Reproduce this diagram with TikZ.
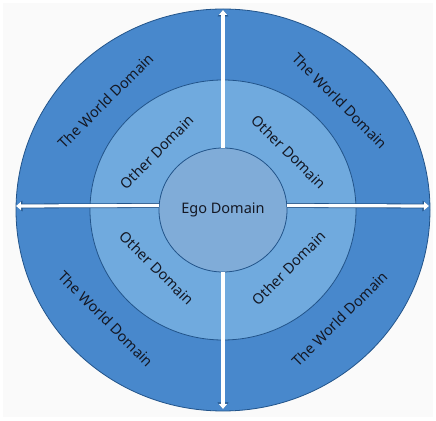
\documentclass[tikz,border=0pt]{standalone}
\usepackage{fontspec}
\setmainfont{Noto Sans}
\usetikzlibrary{positioning}
\usetikzlibrary{shapes.geometric}
\usetikzlibrary{arrows.meta}

\definecolor{outerblue}{RGB}{72,136,204}
\definecolor{midblue}{RGB}{112,170,222}
\definecolor{egoblue}{RGB}{128,172,216}
\definecolor{rim}{RGB}{34,84,138}
\definecolor{ink}{RGB}{20,24,36}

\begin{document}
\begin{tikzpicture}[
x=1pt, y=1pt,
font=\fontsize{14.5}{16}\selectfont,
every node/.style={text=ink}
]

\tikzstyle{ring} = [draw=rim, line width=0.8pt]
\tikzstyle{ego} = [draw=rim, line width=0.8pt, fill=egoblue, shape=ellipse,
    minimum width=128pt, minimum height=124pt, inner sep=0pt]
\tikzstyle{axis} = [white, line width=3.2pt, -{Triangle[length=5pt,width=8pt]},
    preaction={draw=rim, line width=4.8pt, -{Triangle[length=6.5pt,width=10.5pt]}}]
\tikzstyle{lbl} = [inner sep=0pt]

\useasboundingbox (0,0) rectangle (436,420);
\fill[gray!4] (3,3) rectangle (433,417);

% rings
\coordinate (c) at (223,210);
\fill[outerblue] (c) ellipse [x radius=207, y radius=201];
\draw[ring] (c) ellipse [x radius=207, y radius=201];
\fill[midblue] (c) ellipse [x radius=133, y radius=130];
\draw[ring] (c) ellipse [x radius=133, y radius=130];
\node[ego] (ego) at (c) {Ego Domain};

% axis ends
\coordinate (top) at (223,410);
\coordinate (bot) at (223,11);
\coordinate (lft) at (16,214);
\coordinate (rgt) at (429,214);
\draw[axis] (ego.north) -- (top);
\draw[axis] (ego.south) -- (bot);
\draw[axis] (ego.176) -- (lft);
\draw[axis] (ego.4) -- (rgt);

% domain labels
\node[lbl, rotate=45]  (wtl) at (106,319) {The World Domain};
\node[lbl, rotate=-45] (wtr) at (340,319) {The World Domain};
\node[lbl, rotate=-45] (wbl) at (106,101) {The World Domain};
\node[lbl, rotate=45]  (wbr) at (340,101) {The World Domain};
\node[lbl, rotate=45]  (otl) at (157,268) {Other Domain};
\node[lbl, rotate=-45] (otr) at (289,268) {Other Domain};
\node[lbl, rotate=-45] (obl) at (157,152) {Other Domain};
\node[lbl, rotate=45]  (obr) at (289,152) {Other Domain};
\end{tikzpicture}
\end{document}
